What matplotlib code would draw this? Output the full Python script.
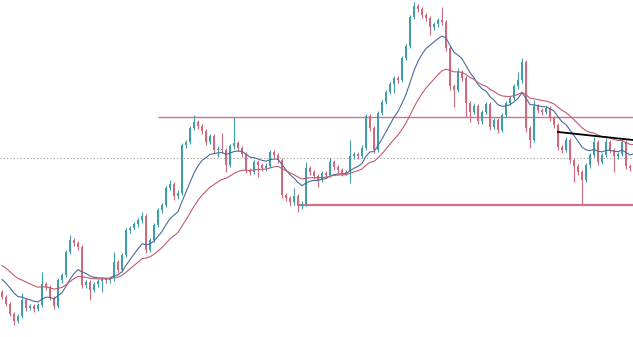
"""
Candlestick chart with two moving averages and support / resistance lines.
"""

import numpy as np
import pandas as pd
import matplotlib
matplotlib.use("Agg")
import matplotlib.pyplot as plt

# closes of the candles before the visible window (only feed the averages)
pre_closes = [105, 100, 98, 94, 96, 90, 88, 84, 86, 80,
              76, 74, 70, 66, 62, 60, 56, 53, 50, 48]

closes = [43, 36, 26, 19, 24, 40, 32, 34, 31, 35,
          56, 53, 42, 34, 60, 65, 88, 100, 97, 93,
          55, 58, 50, 56, 59, 61, 60, 62, 78, 70,
          85, 110, 112, 116, 120, 124, 90, 100, 115, 130,
          135, 152, 156, 144, 147, 195, 198, 212, 218, 214,
          209, 198, 204, 190, 191, 190, 175, 194, 197, 192,
          186, 170, 168, 178, 175, 172, 174, 188, 185, 180,
          145, 142, 138, 144, 134, 136, 172, 168, 164, 160,
          167, 165, 178, 173, 170, 167, 168, 184, 186, 184,
          192, 224, 212, 190, 227, 238, 248, 256, 262, 260,
          282, 294, 323, 334, 331, 325, 322, 313, 316, 320,
          318, 292, 254, 250, 268, 262, 237, 228, 234, 219,
          228, 236, 213, 220, 210, 225, 237, 242, 254, 260,
          278, 212, 200, 234, 230, 228, 232, 222, 215, 193,
          190, 200, 180, 174, 168, 160, 175, 185, 198, 178,
          185, 198, 190, 184, 186, 198, 174, 172, 193]

highs = [50, 45, 38, 28, 26, 47, 42, 36, 36, 37,
         68, 58, 55, 44, 62, 67, 90, 105, 102, 99,
         95, 60, 60, 58, 61, 63, 63, 64, 88, 80,
         87, 112, 114, 118, 122, 128, 126, 102, 117, 132,
         137, 154, 160, 158, 150, 197, 200, 214, 225, 220,
         216, 211, 206, 206, 194, 207, 192, 196, 223, 199,
         194, 188, 172, 180, 180, 177, 177, 190, 190, 187,
         182, 147, 144, 152, 146, 139, 178, 174, 170, 166,
         169, 169, 182, 180, 175, 172, 170, 200, 188, 188,
         195, 226, 226, 214, 229, 240, 250, 258, 264, 264,
         284, 296, 325, 338, 336, 333, 327, 324, 318, 322,
         333, 320, 294, 256, 272, 270, 264, 239, 237, 236,
         230, 238, 238, 222, 222, 227, 239, 244, 256, 268,
         282, 280, 214, 240, 236, 232, 234, 234, 224, 217,
         195, 203, 202, 182, 176, 170, 177, 187, 203, 200,
         187, 202, 200, 192, 188, 202, 200, 176, 200]

lows = [41, 34, 24, 15, 17, 22, 29, 30, 28, 29,
        33, 50, 40, 31, 32, 57, 63, 86, 94, 90,
        52, 52, 40, 48, 53, 48, 57, 57, 59, 67,
        68, 83, 107, 110, 113, 117, 87, 88, 98, 113,
        127, 133, 150, 140, 141, 145, 192, 196, 210, 211,
        206, 195, 196, 187, 183, 187, 168, 173, 191, 189,
        183, 167, 165, 166, 163, 169, 169, 172, 182, 177,
        142, 139, 134, 135, 128, 131, 134, 165, 161, 153,
        158, 162, 163, 170, 167, 164, 165, 157, 181, 181,
        182, 190, 209, 187, 188, 225, 236, 246, 247, 257,
        258, 280, 292, 321, 328, 322, 319, 305, 310, 313,
        315, 289, 250, 233, 248, 259, 223, 218, 226, 216,
        216, 226, 210, 211, 207, 208, 223, 235, 240, 251,
        257, 208, 192, 198, 227, 225, 226, 219, 212, 190,
        187, 188, 177, 158, 165, 135, 158, 172, 183, 175,
        176, 183, 187, 168, 181, 184, 171, 169, 170]

# horizontal levels and the trend line: (candle index, price)
resistance = 223
resistance_from = 39
support = 135
support_from = 74
middle = 182
trend_start = (139, 208)
trend_end = (157.75, 200)

bull_color = "#3f9ea6"
bear_color = "#cf6a7c"

all_closes = pd.Series(pre_closes + closes, dtype=float)
ma_fast = all_closes.ewm(span=12, adjust=False).mean().to_numpy()[len(pre_closes):]
ma_slow = all_closes.ewm(span=26, adjust=False).mean().to_numpy()[len(pre_closes):]

opens = np.array([pre_closes[-1]] + closes[:-1], dtype=float)
closes_arr = np.array(closes, dtype=float)
idx = np.arange(len(closes))

fig = plt.figure(figsize=(6.33, 3.37), dpi=100)
ax = fig.add_axes([0, 0, 1, 1])
ax.set_axis_off()

# levels
ax.axhline(middle, color="#9a9a9a", lw=0.8, ls=(0, (1, 2)), zorder=1)
ax.hlines(resistance, resistance_from, idx[-1] + 1, color="#d4708a", lw=1.0, zorder=1)
ax.hlines(support, support_from, idx[-1] + 1, color="#d4708a", lw=1.6, zorder=1)

# candles
colors = np.where(closes_arr >= opens, bull_color, bear_color)
ax.vlines(idx, lows, highs, colors=colors, lw=0.8, zorder=2)
bottoms = np.minimum(opens, closes_arr)
heights = np.maximum(np.abs(closes_arr - opens), 0.8)
ax.bar(idx, heights, bottom=bottoms, width=0.65, color=colors, lw=0, zorder=3)

# moving averages
ax.plot(idx, ma_fast, color="#4a69a0", lw=0.8, zorder=4)
ax.plot(idx, ma_slow, color="#c25a6e", lw=0.8, zorder=4)

# trend line
ax.plot([trend_start[0], trend_end[0]], [trend_start[1], trend_end[1]],
        color="black", lw=1.3, zorder=5)

ax.set_xlim(-0.5, 157.75)
ax.set_ylim(3, 340)

fig.savefig("out.png", dpi=100, facecolor="white")
